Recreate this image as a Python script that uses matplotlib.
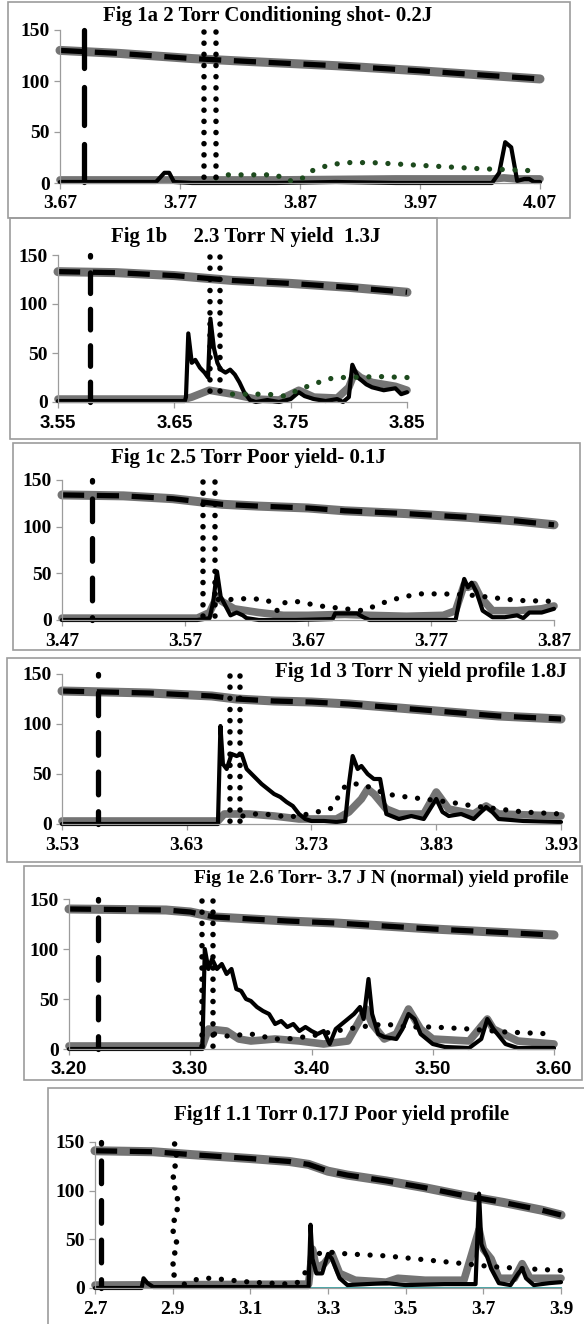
import matplotlib.pyplot as plt
from matplotlib.patches import Rectangle

W, H = 584, 1324
fig = plt.figure(figsize=(W / 100, H / 100), dpi=100)

SERIF = 'Liberation Serif'
SANS = 'Liberation Sans'
GRAY = '#747474'
EDGE = '#9c9c9c'
GREEN = '#1d4a1d'

# ---- Fig 1a ----
a_ticks = [3.67, 3.77, 3.87, 3.97, 4.07]
a_labels = ['3.67', '3.77', '3.87', '3.97', '4.07']
a_top_x = [3.67, 3.72, 3.78, 3.83, 3.90, 3.97, 4.02, 4.07]
a_top_y = [130, 127, 122, 119, 115, 110, 106, 102]
a_base_x = [3.67, 3.75, 3.85, 3.95, 4.03, 4.04, 4.05, 4.07]
a_base_y = [3, 3, 3, 4, 4, 5, 4, 4]
a_sig_x = [3.67, 3.70, 3.75, 3.757, 3.761, 3.765, 3.78, 3.85, 3.90, 3.95, 4.03,
           4.036, 4.041, 4.046, 4.051, 4.057, 4.061, 4.065, 4.07]
a_sig_y = [1, 1, 1, 10, 10, 1, 0, 0, 1, 0, 0, 10, 40, 35, 2, 4, 4, 1, 1]
a_dot_x = [3.80, 3.81, 3.83, 3.85, 3.86, 3.87, 3.88, 3.895, 3.91, 3.93, 3.96,
           3.99, 4.02, 4.045, 4.065]
a_dot_y = [5, 8, 8, 8, 2, 3, 12, 18, 20, 20, 18, 16, 14, 13, 12]
a_vdash = 3.69
a_vdots = [3.79, 3.80]

# ---- Fig 1b ----
b_ticks = [3.55, 3.65, 3.75, 3.85]
b_labels = ['3.55', '3.65', '3.75', '3.85']
b_top_x = [3.55, 3.60, 3.65, 3.68, 3.70, 3.75, 3.80, 3.85]
b_top_y = [133, 132, 129, 126, 124, 121, 117, 112]
b_base_x = [3.55, 3.659, 3.665, 3.68, 3.69, 3.70, 3.72, 3.74, 3.757, 3.77, 3.79,
            3.80, 3.805, 3.81, 3.82, 3.83, 3.84, 3.85]
b_base_y = [3, 3, 5, 12, 10, 8, 3, 2, 12, 5, 4, 15, 30, 25, 20, 18, 16, 12]
b_sig_x = [3.55, 3.659, 3.660, 3.662, 3.665, 3.668, 3.672, 3.676, 3.679, 3.681,
           3.684, 3.687, 3.69, 3.694, 3.698, 3.702, 3.706, 3.71, 3.715, 3.72,
           3.73, 3.74, 3.75, 3.757, 3.762, 3.77, 3.78, 3.79, 3.795, 3.80, 3.803,
           3.808, 3.815, 3.82, 3.83, 3.84, 3.845, 3.85]
b_sig_y = [1, 1, 5, 70, 40, 43, 35, 30, 25, 85, 55, 40, 33, 30, 33, 28, 20, 10,
           2, 0, 2, 0, 3, 10, 6, 3, 1, 3, 0, 5, 38, 25, 18, 15, 12, 14, 8, 10]
b_dot_x = [3.70, 3.715, 3.73, 3.745, 3.762, 3.77, 3.78, 3.79, 3.80, 3.825, 3.85]
b_dot_y = [8, 8, 8, 6, 15, 18, 23, 25, 25, 26, 25]
b_vdash = 3.5775
b_vdots = [3.681, 3.689]

# ---- Fig 1c ----
c_ticks = [3.47, 3.57, 3.67, 3.77, 3.87]
c_labels = ['3.47', '3.57', '3.67', '3.77', '3.87']
c_top_x = [3.47, 3.52, 3.56, 3.58, 3.60, 3.63, 3.67, 3.70, 3.75, 3.80, 3.84, 3.87]
c_top_y = [134, 133, 130, 127, 124, 122, 120, 117, 114, 110, 106, 102]
c_base_x = [3.47, 3.58, 3.59, 3.596, 3.60, 3.61, 3.62, 3.63, 3.65, 3.67, 3.70,
            3.72, 3.75, 3.78, 3.79, 3.797, 3.80, 3.805, 3.81, 3.82, 3.84, 3.86, 3.87]
c_base_y = [2, 2, 8, 25, 20, 12, 10, 8, 5, 5, 6, 5, 4, 5, 10, 38, 35, 38, 25, 10,
            10, 12, 15]
c_sig_x = [3.47, 3.58, 3.59, 3.593, 3.596, 3.599, 3.603, 3.607, 3.612, 3.617,
           3.62, 3.63, 3.66, 3.69, 3.692, 3.70, 3.71, 3.715, 3.72, 3.79, 3.793,
           3.797, 3.80, 3.803, 3.807, 3.812, 3.82, 3.83, 3.84, 3.845, 3.85, 3.86,
           3.865, 3.87]
c_sig_y = [0, 0, 2, 20, 52, 25, 15, 5, 8, 5, 2, 0, 0, 1, 7, 7, 7, 3, 0, 0, 20,
           44, 35, 40, 30, 10, 3, 3, 5, 2, 8, 8, 10, 12]
c_dot_x = [3.597, 3.61, 3.62, 3.635, 3.64, 3.645, 3.648, 3.66, 3.68, 3.70, 3.715,
           3.73, 3.745, 3.76, 3.78, 3.80, 3.82, 3.84, 3.87]
c_dot_y = [22, 22, 23, 22, 19, 10, 18, 20, 15, 12, 10, 18, 24, 28, 28, 27, 24, 21, 20]
c_vdash = 3.494
c_vdots = [3.585, 3.594]

# ---- Fig 1d ----
d_ticks = [3.53, 3.63, 3.73, 3.83, 3.93]
d_labels = ['3.53', '3.63', '3.73', '3.83', '3.93']
d_top_x = [3.53, 3.60, 3.65, 3.67, 3.70, 3.73, 3.76, 3.80, 3.84, 3.88, 3.93]
d_top_y = [133, 131, 128, 125, 123, 122, 120, 116, 112, 108, 105]
d_base_x = [3.53, 3.655, 3.66, 3.68, 3.70, 3.72, 3.75, 3.76, 3.77, 3.775, 3.78,
            3.79, 3.80, 3.82, 3.83, 3.84, 3.86, 3.87, 3.88, 3.93]
d_base_y = [3, 3, 10, 10, 8, 5, 5, 12, 25, 35, 30, 15, 10, 10, 32, 15, 10, 18, 10, 8]
d_sig_x = [3.53, 3.655, 3.657, 3.659, 3.662, 3.666, 3.67, 3.674, 3.678, 3.682,
           3.686, 3.69, 3.695, 3.70, 3.705, 3.71, 3.715, 3.72, 3.725, 3.73, 3.74,
           3.75, 3.757, 3.76, 3.763, 3.767, 3.77, 3.775, 3.78, 3.785, 3.79, 3.80,
           3.81, 3.82, 3.83, 3.835, 3.84, 3.85, 3.86, 3.87, 3.875, 3.88, 3.90, 3.93]
d_sig_y = [0, 0, 98, 60, 55, 70, 68, 70, 55, 50, 45, 40, 35, 30, 27, 22, 18, 10,
           5, 3, 3, 2, 3, 40, 68, 55, 58, 50, 45, 45, 10, 5, 8, 5, 25, 12, 8, 10,
           5, 17, 12, 5, 3, 2]
d_dot_x = [3.675, 3.685, 3.69, 3.70, 3.71, 3.72, 3.745, 3.752, 3.757, 3.762, 3.77,
           3.78, 3.79, 3.80, 3.82, 3.84, 3.86, 3.88, 3.90, 3.93]
d_dot_y = [8, 10, 10, 9, 7, 8, 15, 28, 38, 40, 40, 35, 30, 28, 25, 22, 18, 15, 12, 10]
d_vdash = 3.559
d_vdots = [3.665, 3.673]

# ---- Fig 1e ----
e_ticks = [3.20, 3.30, 3.40, 3.50, 3.60]
e_labels = ['3.20', '3.30', '3.40', '3.50', '3.60']
e_top_x = [3.20, 3.28, 3.30, 3.32, 3.35, 3.38, 3.42, 3.46, 3.50, 3.55, 3.60]
e_top_y = [140, 139, 137, 132, 130, 128, 126, 123, 120, 117, 114]
e_base_x = [3.20, 3.31, 3.315, 3.33, 3.34, 3.35, 3.37, 3.39, 3.41, 3.43, 3.445,
            3.45, 3.46, 3.47, 3.48, 3.49, 3.50, 3.53, 3.545, 3.55, 3.57, 3.60]
e_base_y = [3, 3, 20, 18, 10, 8, 10, 8, 5, 8, 40, 25, 10, 15, 40, 20, 10, 8, 30,
            20, 8, 5]
e_sig_x = [3.20, 3.31, 3.312, 3.315, 3.318, 3.322, 3.326, 3.33, 3.334, 3.338,
           3.342, 3.346, 3.35, 3.355, 3.36, 3.365, 3.37, 3.375, 3.38, 3.385, 3.39,
           3.395, 3.40, 3.405, 3.41, 3.415, 3.42, 3.425, 3.43, 3.435, 3.44, 3.443,
           3.447, 3.45, 3.455, 3.46, 3.47, 3.475, 3.48, 3.485, 3.49, 3.50, 3.51,
           3.53, 3.54, 3.545, 3.55, 3.56, 3.57, 3.60]
e_sig_y = [0, 0, 100, 80, 90, 80, 85, 75, 80, 60, 58, 50, 48, 42, 38, 35, 25, 28,
           22, 25, 18, 22, 18, 15, 18, 5, 20, 25, 30, 35, 42, 30, 70, 35, 15, 12,
           10, 20, 35, 30, 15, 5, 2, 1, 10, 30, 20, 5, 1, 1]
e_dot_x = [3.32, 3.33, 3.35, 3.37, 3.38, 3.40, 3.42, 3.44, 3.46, 3.48, 3.50, 3.53,
           3.56, 3.60]
e_dot_y = [15, 13, 15, 10, 10, 13, 18, 22, 25, 22, 22, 20, 17, 15]
e_vdash = 3.224
e_vdots = [3.310, 3.319]

# ---- Fig 1f ----
f_ticks = [2.7, 2.9, 3.1, 3.3, 3.5, 3.7, 3.9]
f_labels = ['2.7', '2.9', '3.1', '3.3', '3.5', '3.7', '3.9']
f_top_x = [2.70, 2.85, 2.95, 3.10, 3.20, 3.25, 3.30, 3.35, 3.45, 3.55, 3.65, 3.75,
           3.85, 3.90]
f_top_y = [141, 140, 137, 133, 130, 127, 120, 116, 110, 103, 95, 88, 80, 75]
f_base_x = [2.70, 3.25, 3.26, 3.27, 3.29, 3.31, 3.33, 3.37, 3.45, 3.48, 3.55,
            3.65, 3.689, 3.70, 3.72, 3.74, 3.78, 3.80, 3.82, 3.90]
f_base_y = [3, 4, 40, 20, 25, 35, 15, 8, 6, 10, 8, 8, 60, 40, 30, 10, 10, 25, 10, 10]
f_sig_x = [2.70, 2.82, 2.825, 2.835, 2.85, 3.25, 3.255, 3.26, 3.27, 3.285, 3.30,
           3.31, 3.33, 3.35, 3.45, 3.50, 3.60, 3.68, 3.689, 3.695, 3.70, 3.71,
           3.72, 3.74, 3.77, 3.79, 3.80, 3.81, 3.83, 3.87, 3.90]
f_sig_y = [0, 0, 10, 5, 1, 1, 65, 30, 15, 15, 35, 30, 10, 3, 5, 3, 4, 4, 97, 45,
           40, 32, 20, 5, 3, 15, 20, 10, 3, 5, 6]
f_dot_x = [2.93, 2.97, 3.00, 3.05, 3.10, 3.15, 3.20, 3.225, 3.24, 3.25, 3.27,
           3.30, 3.35, 3.45, 3.55, 3.65, 3.72, 3.80, 3.90]
f_dot_y = [4, 10, 10, 8, 6, 5, 4, 6, 15, 25, 35, 37, 35, 33, 29, 25, 22, 20, 18]
f_vdash = 2.715
f_wave_x = [2.905, 2.91, 2.905, 2.90, 2.91, 2.915, 2.905, 2.90, 2.91, 2.905, 2.90, 2.905]
f_wave_y = [148, 135, 122, 110, 97, 85, 72, 60, 47, 35, 22, 10]
f_teal_x = [2.83, 3.90]
f_teal_y = [0, 0]

titles = [
    'Fig 1a 2 Torr Conditioning shot- 0.2J',
    'Fig 1b     2.3 Torr N yield  1.3J',
    'Fig 1c 2.5 Torr Poor yield- 0.1J',
    'Fig 1d 3 Torr N yield profile 1.8J',
    'Fig 1e 2.6 Torr- 3.7 J N (normal) yield profile',
    'Fig1f 1.1 Torr 0.17J Poor yield profile',
]


def px_axes(left, right, top, bottom):
    return fig.add_axes([left / W, 1 - bottom / H, (right - left) / W, (bottom - top) / H])


def frame(x0, y0, x1, y1):
    fig.add_artist(Rectangle((x0 / W, 1 - y1 / H), (x1 - x0) / W, (y1 - y0) / H,
                             transform=fig.transFigure, fill=False, ec=EDGE, lw=1.2))


def draw_panel(ax, p):
    kw = dict(clip_on=False, solid_capstyle='round', solid_joinstyle='round')
    ax.plot(p['top_x'], p['top_y'], color=GRAY, lw=6.5, **kw)
    ax.plot(p['top_x'], p['top_y'], color='black', lw=3.8, dashes=(4.2, 2.4), clip_on=False)
    ax.plot(p['base_x'], p['base_y'], color=GRAY, lw=5.5, **kw)
    ax.plot(p['sig_x'], p['sig_y'], color='black', lw=3.0, **kw)
    ax.plot(p['dot_x'], p['dot_y'], color=p['dot_color'], lw=3.8, ls=(0, (0.01, 2.4)),
            dash_capstyle='round', clip_on=False)
    # vertical dashed marker drawn from the top down
    ax.plot([p['vdash'], p['vdash']], [150, 0], color='black', lw=3.8,
            ls=p['vdash_pat'], dash_capstyle='round', clip_on=False)
    for xv in p['vdots']:
        ax.plot([xv, xv], [148, 0], color='black', lw=4.0, ls=(0, (0.01, 2.0)),
                dash_capstyle='round', clip_on=False)

    ax.set_xlim(p['ticks'][0], p['ticks'][-1])
    ax.set_ylim(0, 150)
    ax.set_yticks([0, 50, 100, 150])
    ax.set_xticks(p['ticks'])
    ax.set_xticklabels(p['labels'])
    for s in ['top', 'right']:
        ax.spines[s].set_visible(False)
    for s in ['left', 'bottom']:
        ax.spines[s].set_color(EDGE)
        ax.spines[s].set_linewidth(0.9)
    ax.tick_params(colors=EDGE, length=4, width=0.9, direction='out', labelcolor='black')
    ax.tick_params(axis='x', pad=5)
    for t in ax.get_yticklabels():
        t.set_fontfamily(SERIF)
        t.set_fontweight('bold')
        t.set_fontsize(14)
    for t in ax.get_xticklabels():
        t.set_fontfamily(p['xfont'])
        t.set_fontweight('bold')
        t.set_fontsize(14 if p['xfont'] == SERIF else 13.5)
    ax.patch.set_alpha(0)


# frames (pixels) and axes boxes (left, right, y=150 row, y=0 row)
frames = [(8, 2, 570, 218), (10, 218, 437, 439), (13, 443, 580, 650),
          (7, 658, 580, 862), (24, 866, 582, 1080), (48, 1088, 590, 1330)]
boxes = [(60, 540, 30, 183), (58, 407, 255, 402), (62, 554, 480, 620),
         (62, 561, 674, 824), (69, 554, 899, 1049), (95, 561, 1142, 1288)]
# title anchor (x, y, horizontal alignment, size)
title_pos = [(268, 16, 'center', 15), (246, 237, 'center', 15), (248, 458, 'center', 15),
             (567, 672, 'right', 15), (569, 878, 'right', 14), (342, 1115, 'center', 15)]

panels = [
    dict(ticks=a_ticks, labels=a_labels, xfont=SERIF, top_x=a_top_x, top_y=a_top_y,
         base_x=a_base_x, base_y=a_base_y, sig_x=a_sig_x, sig_y=a_sig_y,
         dot_x=a_dot_x, dot_y=a_dot_y, dot_color=GREEN, vdash=a_vdash,
         vdash_pat=(0, (7.2, 3.6)), vdots=a_vdots),
    dict(ticks=b_ticks, labels=b_labels, xfont=SANS, top_x=b_top_x, top_y=b_top_y,
         base_x=b_base_x, base_y=b_base_y, sig_x=b_sig_x, sig_y=b_sig_y,
         dot_x=b_dot_x, dot_y=b_dot_y, dot_color=GREEN, vdash=b_vdash,
         vdash_pat=(3.6, (3.9, 3.0)), vdots=b_vdots),
    dict(ticks=c_ticks, labels=c_labels, xfont=SERIF, top_x=c_top_x, top_y=c_top_y,
         base_x=c_base_x, base_y=c_base_y, sig_x=c_sig_x, sig_y=c_sig_y,
         dot_x=c_dot_x, dot_y=c_dot_y, dot_color='black', vdash=c_vdash,
         vdash_pat=(4.0, (4.3, 3.2)), vdots=c_vdots),
    dict(ticks=d_ticks, labels=d_labels, xfont=SERIF, top_x=d_top_x, top_y=d_top_y,
         base_x=d_base_x, base_y=d_base_y, sig_x=d_sig_x, sig_y=d_sig_y,
         dot_x=d_dot_x, dot_y=d_dot_y, dot_color='black', vdash=d_vdash,
         vdash_pat=(4.0, (4.3, 3.2)), vdots=d_vdots),
    dict(ticks=e_ticks, labels=e_labels, xfont=SANS, top_x=e_top_x, top_y=e_top_y,
         base_x=e_base_x, base_y=e_base_y, sig_x=e_sig_x, sig_y=e_sig_y,
         dot_x=e_dot_x, dot_y=e_dot_y, dot_color='black', vdash=e_vdash,
         vdash_pat=(4.0, (4.3, 3.2)), vdots=e_vdots),
    dict(ticks=f_ticks, labels=f_labels, xfont=SERIF, top_x=f_top_x, top_y=f_top_y,
         base_x=f_base_x, base_y=f_base_y, sig_x=f_sig_x, sig_y=f_sig_y,
         dot_x=f_dot_x, dot_y=f_dot_y, dot_color='black', vdash=f_vdash,
         vdash_pat=(4.0, (4.3, 3.2)), vdots=[]),
]

axes = []
for fr, bx, tp, title, p in zip(frames, boxes, title_pos, titles, panels):
    frame(*fr)
    ax = px_axes(*bx)
    draw_panel(ax, p)
    fig.text(tp[0] / W, 1 - tp[1] / H, title, ha=tp[2], va='center',
             fontfamily=SERIF, fontweight='bold', fontsize=tp[3])
    axes.append(ax)

# extra series of Fig 1f: wavy dotted column and teal base line
axf = axes[-1]
axf.plot(f_wave_x, f_wave_y, color='black', lw=4.0, ls=(0, (0.01, 2.0)),
         dash_capstyle='round', clip_on=False)
axf.plot(f_teal_x, f_teal_y, color='#3fa7a7', lw=1.4, clip_on=False, zorder=1)

fig.savefig('out.png', dpi=100)
